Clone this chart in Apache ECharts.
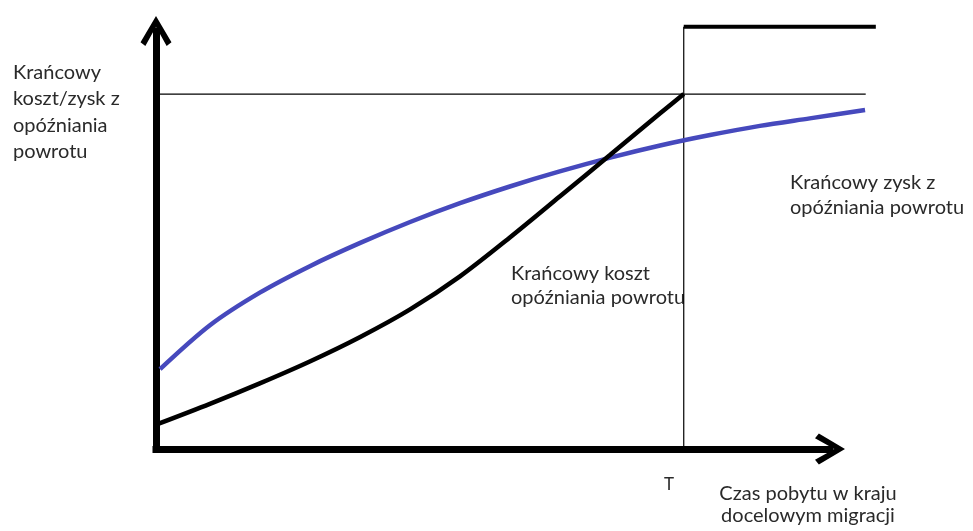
<!DOCTYPE html>
<html>
<head>
<meta charset="utf-8">
<script src="https://cdn.jsdelivr.net/npm/echarts@6/dist/echarts.min.js"></script>
<style>
html,body{margin:0;padding:0;background:#fff;}
#c{width:973px;height:531px;}
</style>
</head>
<body>
<div id="c"></div>
<script>
// ---- data (axis units: the arrowed axes run 0..100) ----
const T_VALUE = 78.3;          // position of T on the time axis
const LEVEL_Y = 84.9;          // level where the cost curve reaches T
const TOP_Y = 101;             // level of the thick line right of T
const LEVEL_END_X = 105.3;     // right end of thin horizontal line
const TOP_END_X = 106.8;       // right end of thick top line

const costX = [0.3, 8.0, 15.4, 22.9, 30.3, 37.7, 45.1, 52.5, 59.9, 67.4, 74.8, 78.3];
const costY = [6.0, 10.8, 15.7, 21.0, 26.8, 33.4, 41.3, 50.6, 60.4, 70.4, 80.3, 84.9];

const gainX = [0.6, 8.0, 15.4, 22.9, 30.3, 37.7, 45.1, 52.5, 59.9, 67.4, 74.8, 82.2, 89.6, 97.0, 105.2];
const gainY = [19.1, 29.6, 37.4, 43.8, 49.3, 54.3, 58.8, 62.8, 66.4, 69.7, 72.6, 75.1, 77.3, 79.1, 81.1];

const yAxisTitle = ['Krańcowy', 'koszt/zysk z', 'opóźniania', 'powrotu'];
const xAxisTitle = ['Czas pobytu w kraju', 'docelowym migracji'];
const gainLabel = ['Krańcowy zysk z', 'opóźniania powrotu'];
const costLabel = ['Krańcowy koszt', 'opóźniania powrotu'];
const tLabel = 'T';

// ---- build ----
const zip = (xs, ys) => xs.map((x, i) => [x, ys[i]]);
const chevron = 'path://M16,0 L32,27 L27,31 L16,11 L5,31 L0,27 Z';
const FONT = 'Lato, "Open Sans", sans-serif';
const TXT = '#2a2a2a';

// same pixel scale in both grids; grid 1 extends further right for marks past the arrow
const AX_LEFT = 156, AX_TOP = 31, AX_BOTTOM = 82, AX_WIDTH = 674;
const DATA_MAX_X = 110;
const dataRight = 973 - AX_LEFT - AX_WIDTH * DATA_MAX_X / 100;

const hiddenAxis = {splitLine: {show: false}, axisTick: {show: false}, axisLabel: {show: false}, axisLine: {show: false}};
const lineBase = {type: 'line', xAxisIndex: 1, yAxisIndex: 1, clip: false, showSymbol: false, silent: true};

const chart = echarts.init(document.getElementById('c'), null, {renderer: 'canvas'});
chart.setOption({
  animation: false,
  backgroundColor: '#ffffff',
  grid: [
    {left: AX_LEFT, width: AX_WIDTH, top: AX_TOP, bottom: AX_BOTTOM},
    {left: AX_LEFT, right: dataRight, top: AX_TOP, bottom: AX_BOTTOM}
  ],
  xAxis: [
    {gridIndex: 0, type: 'value', min: 0, max: 100,
     splitLine: {show: false}, axisTick: {show: false}, axisLabel: {show: false},
     axisLine: {show: true, symbol: ['none', chevron], symbolSize: [34, 30],
       lineStyle: {color: '#000', width: 7, cap: 'square'}}},
    Object.assign({gridIndex: 1, type: 'value', min: 0, max: DATA_MAX_X}, hiddenAxis)
  ],
  yAxis: [
    {gridIndex: 0, type: 'value', min: 0, max: 100,
     splitLine: {show: false}, axisTick: {show: false}, axisLabel: {show: false},
     axisLine: {show: true, symbol: ['none', chevron], symbolSize: [32, 30],
       lineStyle: {color: '#000', width: 7, cap: 'square'}}},
    Object.assign({gridIndex: 1, type: 'value', min: 0, max: 100}, hiddenAxis)
  ],
  series: [
    Object.assign({}, lineBase, {data: [[T_VALUE, 0], [T_VALUE, TOP_Y]], lineStyle: {color: '#000', width: 1.2}}),
    Object.assign({}, lineBase, {data: [[0, LEVEL_Y], [LEVEL_END_X, LEVEL_Y]], lineStyle: {color: '#000', width: 1.2}}),
    Object.assign({}, lineBase, {data: [[T_VALUE, TOP_Y], [TOP_END_X, TOP_Y]], lineStyle: {color: '#000', width: 4}}),
    Object.assign({}, lineBase, {smooth: 0.3, data: zip(gainX, gainY), lineStyle: {color: '#4649bd', width: 4.5}}),
    Object.assign({}, lineBase, {smooth: 0.3, data: zip(costX, costY), lineStyle: {color: '#000', width: 4.5}})
  ],
  graphic: [
    {type: 'text', left: 13, top: 59, style: {text: yAxisTitle.join('\n'), font: '20px ' + FONT, fill: TXT, lineHeight: 26.5}},
    {type: 'text', left: 790, top: 170, style: {text: gainLabel.join('\n'), font: '20px ' + FONT, fill: TXT, lineHeight: 25}},
    {type: 'text', left: 511, top: 262, style: {text: costLabel.join('\n'), font: '20px ' + FONT, fill: TXT, lineHeight: 24}},
    {type: 'text', x: 669, y: 476, style: {text: tLabel, font: '17px ' + FONT, fill: TXT, align: 'center', verticalAlign: 'top'}},
    {type: 'text', x: 808, y: 483, style: {text: xAxisTitle.join('\n'), font: '20px ' + FONT, fill: TXT, align: 'center', verticalAlign: 'top', lineHeight: 22}}
  ]
});
</script>
</body>
</html>
